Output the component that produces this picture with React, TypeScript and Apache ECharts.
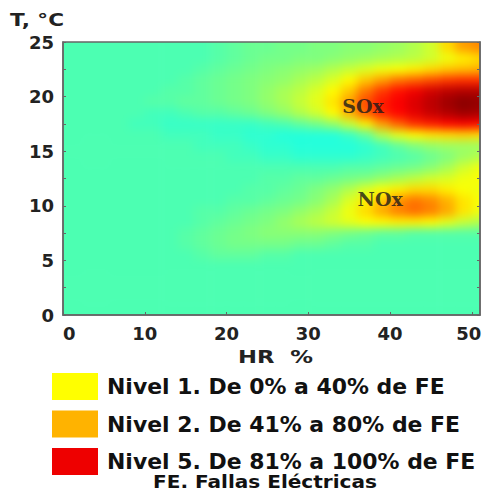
import React, { useEffect, useRef } from 'react';
import * as echarts from 'echarts';

// HR (%) cell centres and T (°C) cell centres
const hrValues = [1, 3, 5, 7, 9, 11, 13, 15, 17, 19, 21, 23, 25, 27, 29, 31, 33, 35, 37, 39, 41, 43, 45, 47, 49, 51];
const tValues = [24.5, 23.5, 22.5, 21.5, 20.5, 19.5, 18.5, 17.5, 16.5, 15.5, 14.5, 13.5, 12.5, 11.5, 10.5, 9.5, 8.5, 7.5, 6.5, 5.5, 4.5, 3.5, 2.5, 1.5, 0.5];

// Level (0-100, jet colour scale) per T row, one value per HR column
const rowT24_5 = [45, 45, 45, 45, 45, 45, 45, 45, 45, 46, 47, 48, 48, 49, 49, 50, 50, 51, 51, 52, 53, 55, 58, 66, 72, 74];
const rowT23_5 = [45, 45, 45, 45, 45, 45, 45, 45, 45, 46, 47, 48, 49, 49, 50, 50, 51, 52, 53, 54, 55, 56, 58, 61, 64, 66];
const rowT22_5 = [45, 45, 45, 45, 45, 45, 45, 45, 46, 47, 48, 49, 50, 51, 52, 53, 55, 57, 59, 61, 62, 64, 66, 68, 69, 70];
const rowT21_5 = [45, 45, 45, 45, 45, 45, 45, 46, 47, 48, 49, 50, 51, 52, 54, 56, 59, 63, 68, 72, 76, 78, 80, 82, 83, 83];
const rowT20_5 = [45, 45, 45, 45, 45, 45, 46, 46, 47, 48, 49, 50, 52, 54, 56, 59, 63, 68, 76, 82, 86, 89, 92, 94, 95, 95];
const rowT19_5 = [45, 45, 45, 45, 45, 46, 46, 47, 47, 48, 49, 50, 52, 54, 57, 60, 65, 72, 80, 85, 88, 91, 94, 97, 99, 98];
const rowT18_5 = [45, 45, 45, 45, 45, 44, 44, 45, 46, 46, 47, 48, 50, 52, 55, 58, 63, 70, 78, 84, 87, 90, 93, 95, 97, 96];
const rowT17_5 = [45, 45, 45, 45, 44, 44, 43, 43, 43, 43, 43, 43, 44, 45, 47, 49, 52, 57, 64, 72, 78, 83, 85, 87, 88, 87];
const rowT16_5 = [45, 45, 45, 45, 45, 45, 44, 44, 44, 43, 43, 42, 42, 41, 41, 41, 41, 43, 47, 55, 60, 63, 65, 66, 67, 66];
const rowT15_5 = [45, 45, 45, 45, 45, 45, 45, 45, 44, 44, 44, 43, 42, 42, 41, 41, 41, 41, 42, 44, 47, 50, 52, 53, 53, 53];
const rowT14_5 = [45, 45, 45, 45, 45, 45, 45, 45, 45, 45, 44, 44, 43, 43, 42, 42, 42, 42, 43, 44, 45, 46, 48, 50, 53, 55];
const rowT13_5 = [45, 45, 45, 45, 45, 45, 45, 45, 45, 45, 45, 45, 45, 45, 45, 45, 45, 46, 46, 47, 48, 49, 51, 54, 58, 61];
const rowT12_5 = [45, 45, 45, 45, 45, 45, 45, 45, 45, 45, 45, 45, 46, 46, 47, 47, 48, 49, 50, 52, 54, 56, 58, 59, 61, 62];
const rowT11_5 = [45, 45, 45, 45, 45, 45, 45, 45, 45, 45, 45, 46, 46, 47, 48, 50, 52, 55, 59, 62, 64, 66, 66, 64, 62, 61];
const rowT10_5 = [45, 45, 45, 45, 45, 45, 45, 45, 45, 45, 46, 46, 47, 48, 49, 51, 54, 59, 64, 68, 73, 76, 74, 70, 65, 62];
const rowT9_5 = [45, 45, 45, 45, 45, 45, 45, 45, 46, 46, 47, 48, 49, 50, 52, 54, 57, 61, 66, 71, 75, 77, 75, 71, 65, 61];
const rowT8_5 = [45, 45, 45, 45, 45, 45, 45, 45, 46, 47, 48, 49, 50, 52, 54, 56, 58, 60, 62, 63, 64, 64, 63, 60, 57, 55];
const rowT7_5 = [45, 45, 45, 45, 45, 45, 45, 46, 47, 48, 49, 50, 51, 51, 51, 51, 50, 49, 48, 47, 47, 46, 46, 46, 46, 46];
const rowT6_5 = [45, 45, 45, 45, 45, 45, 45, 46, 47, 48, 49, 49, 49, 49, 48, 48, 47, 46, 46, 45, 45, 45, 45, 45, 45, 45];
const rowT5_5 = [45, 45, 45, 45, 45, 45, 45, 45, 46, 47, 47, 47, 46, 46, 45, 45, 45, 45, 45, 45, 45, 45, 45, 45, 45, 45];
const rowT4_5 = [45, 45, 45, 45, 45, 45, 45, 45, 45, 45, 45, 45, 45, 45, 45, 45, 45, 45, 45, 45, 45, 45, 45, 45, 45, 45];
const rowT3_5 = [45, 45, 45, 45, 45, 45, 45, 45, 45, 45, 45, 45, 45, 45, 45, 45, 45, 45, 45, 45, 45, 45, 45, 45, 45, 45];
const rowT2_5 = [45, 45, 45, 45, 45, 45, 45, 45, 45, 45, 45, 45, 45, 45, 45, 45, 45, 45, 45, 45, 45, 45, 45, 45, 45, 45];
const rowT1_5 = [45, 45, 45, 45, 45, 45, 45, 45, 45, 45, 45, 45, 45, 45, 45, 45, 45, 45, 45, 45, 45, 45, 45, 45, 45, 45];
const rowT0_5 = [45, 45, 45, 45, 45, 45, 45, 45, 45, 45, 45, 45, 45, 45, 45, 45, 45, 45, 45, 45, 45, 45, 45, 45, 45, 45];

const rows = [rowT24_5, rowT23_5, rowT22_5, rowT21_5, rowT20_5, rowT19_5, rowT18_5, rowT17_5, rowT16_5, rowT15_5,
  rowT14_5, rowT13_5, rowT12_5, rowT11_5, rowT10_5, rowT9_5, rowT8_5, rowT7_5, rowT6_5, rowT5_5,
  rowT4_5, rowT3_5, rowT2_5, rowT1_5, rowT0_5];

// Gas labels placed at their (HR, T) positions
const gasLabels = ['SOx', 'NOx'];
const gasHR = [36.7, 38.8];
const gasT = [19.1, 10.6];

const legendTexts = ['Nivel 1. De 0% a 40% de FE', 'Nivel 2. De 41% a 80% de FE', 'Nivel 5. De 81% a 100% de FE'];
const legendColors = ['#ffff00', '#ffb300', '#ee0000'];
const footnote = 'FE. Fallas Eléctricas';

const jet = ['#00007f', '#0000ff', '#007fff', '#00ffff', '#7fff7f', '#ffff00', '#ff7f00', '#ff0000', '#7f0000'];

const FONT = '"DejaVu Sans", Arial, sans-serif';
const GRID = { left: 63, top: 42, width: 417, height: 273 };
const PAD = 20;

export default function App() {
  const ref = useRef<HTMLDivElement>(null);
  const heatRef = useRef<HTMLDivElement>(null);
  useEffect(() => {
    if (!ref.current || !heatRef.current) return;
    const data: number[][] = [];
    rows.forEach((row, ri) => {
      row.forEach((v, ci) => data.push([hrValues[ci], tValues[ri], v]));
    });
    const firstX = hrValues[0];
    const lastX = hrValues[hrValues.length - 1];
    const topT = tValues[0];
    const bottomT = tValues[tValues.length - 1];

    // Heat layer (cells), softened like the original shaded surface
    const heat = echarts.init(heatRef.current, undefined, { renderer: 'svg' });
    const hw = GRID.width + 2 * PAD;
    const hh = GRID.height + 2 * PAD;
    heat.setOption({
      animation: false,
      grid: { left: PAD, top: PAD, width: GRID.width, height: GRID.height, outerBoundsMode: 'none' },
      xAxis: { type: 'value', min: 0, max: 51, show: false },
      yAxis: { type: 'value', min: 0, max: 25, show: false },
      visualMap: {
        type: 'continuous', min: 0, max: 100, dimension: 2, show: false,
        inRange: { color: jet },
      },
      series: [{
        type: 'custom',
        clip: false,
        encode: { x: 0, y: 1 },
        data,
        renderItem: (params: any, api: any) => {
          const x = api.value(0);
          const y = api.value(1);
          const p0 = api.coord([x - 1, y + 0.5]);
          const p1 = api.coord([x + 1, y - 0.5]);
          let x0 = p0[0], y0 = p0[1], x1 = p1[0] + 0.6, y1 = p1[1] + 0.6;
          if (x === firstX) x0 = 0;
          if (x === lastX) x1 = hw;
          if (y === topT) y0 = 0;
          if (y === bottomT) y1 = hh;
          return {
            type: 'rect',
            shape: { x: x0, y: y0, width: x1 - x0, height: y1 - y0 },
            style: { fill: api.visual('color'), stroke: null },
          };
        },
      }],
    });

    // Axes, labels and legend layer
    const chart = echarts.init(ref.current, undefined, { renderer: 'svg' });
    const gasData = gasLabels.map((n, i) => ({ name: n, value: [gasHR[i], gasT[i]] }));
    const legendGraphics: any[] = [];
    legendTexts.forEach((t, i) => {
      const y = 373 + i * 37.5;
      legendGraphics.push({
        type: 'rect', shape: { x: 52, y, width: 46, height: 27 },
        style: { fill: legendColors[i] },
      });
      legendGraphics.push({
        type: 'text', x: 107, y: y + 14, scaleX: 1.045,
        style: { text: t, font: `bold 21px ${FONT}`, fill: '#111', textAlign: 'left', textVerticalAlign: 'middle' },
      });
    });

    const axisCommon = {
      axisLine: { show: true, lineStyle: { color: '#666', width: 1.5 } },
      axisTick: { show: true, inside: true, length: 3, lineStyle: { color: '#666' } },
      splitLine: { show: false },
    };
    const labelFont = { fontFamily: FONT, fontWeight: 'bold' as const, fontSize: 18, color: '#222' };

    chart.setOption({
      animation: false,
      backgroundColor: 'transparent',
      grid: { ...GRID, outerBoundsMode: 'none', containLabel: false, show: true, borderColor: '#666', borderWidth: 1.5, backgroundColor: 'transparent' },
      xAxis: [{
        type: 'value', min: 0, max: 51, interval: 10, ...axisCommon,
        axisLabel: {
          margin: 9, ...labelFont, showMaxLabel: false, alignMinLabel: 'left',
          formatter: (v: number) => (v === 50 ? '{e|50}' : String(v)),
          rich: { e: { ...labelFont, padding: [0, 6, 0, 0] } },
        },
      }],
      yAxis: [{
        type: 'value', min: 0, max: 25, interval: 5, ...axisCommon,
        minorTick: { show: true, splitNumber: 2, length: 3, lineStyle: { color: '#666' } },
        axisLabel: { margin: 9, ...labelFont },
      }, {
        type: 'value', min: 0, max: 25, interval: 5, position: 'right', ...axisCommon,
        minorTick: { show: true, splitNumber: 2, length: 3, lineStyle: { color: '#666' } },
        axisLabel: { show: false },
      }],
      series: [{
        type: 'scatter',
        data: gasData,
        symbolSize: 0,
        z: 5,
        label: {
          show: true, position: 'inside', formatter: '{b}',
          fontFamily: '"DejaVu Serif", "Liberation Serif", serif', fontWeight: 'bold', fontSize: 19, color: '#1a1a1a',
        },
      }],
      graphic: [
        { type: 'text', x: 10, y: 20, scaleX: 1.2, style: { text: 'T, °C', font: `bold 18px ${FONT}`, fill: '#222', textAlign: 'left', textVerticalAlign: 'middle' } },
        { type: 'text', x: 238, y: 357, scaleX: 1.26, style: { text: 'HR  %', font: `bold 18px ${FONT}`, fill: '#222', textAlign: 'left', textVerticalAlign: 'middle' } },
        ...legendGraphics,
        { type: 'text', x: 153, y: 482, scaleX: 1.18, style: { text: footnote, font: `bold 17px ${FONT}`, fill: '#111', textAlign: 'left', textVerticalAlign: 'middle' } },
      ],
    });
    return () => { chart.dispose(); heat.dispose(); };
  }, []);
  return (
    <div style={{ position: 'fixed', left: 0, top: 0, width: 482, height: 491, background: '#fff' }}>
      <div style={{ position: 'absolute', left: GRID.left, top: GRID.top, width: GRID.width, height: GRID.height, overflow: 'hidden' }}>
        <div ref={heatRef} style={{ position: 'absolute', left: -PAD, top: -PAD, width: GRID.width + 2 * PAD, height: GRID.height + 2 * PAD, filter: 'blur(5px)' }} />
      </div>
      <div ref={ref} style={{ position: 'absolute', left: 0, top: 0, width: 482, height: 491 }} />
    </div>
  );
}
